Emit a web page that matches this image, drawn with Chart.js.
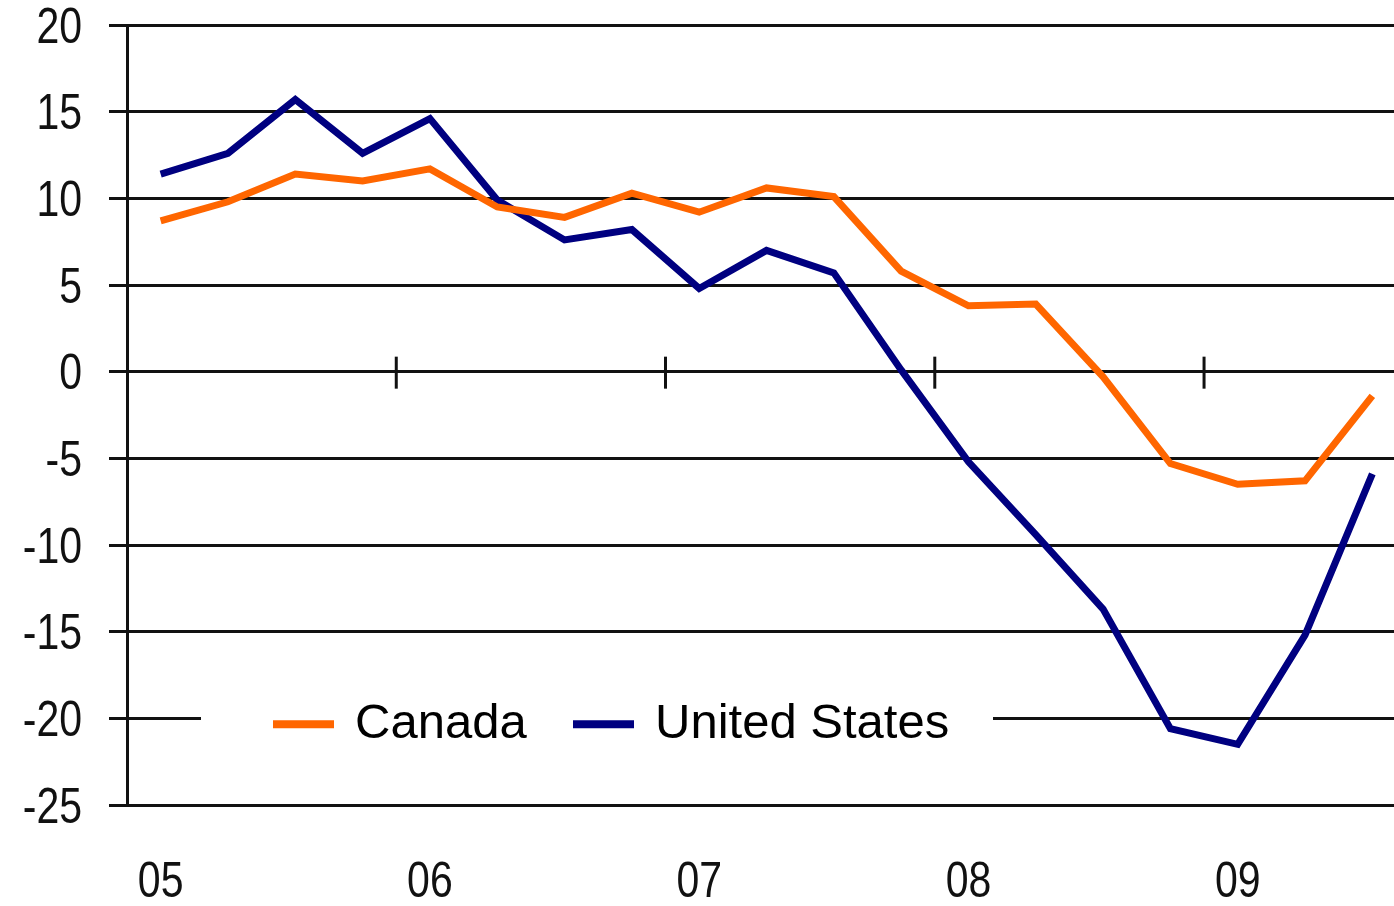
<!DOCTYPE html>
<html>
<head>
<meta charset="utf-8">
<title>Canada vs United States</title>
<script src="https://cdn.jsdelivr.net/npm/chart.js@4"></script>
<style>
    html, body { margin: 0; padding: 0; background: #fff; overflow: hidden; width: 1394px; height: 906px; }
    /* a área do gráfico continua um pouco além da borda direita, como no original */
    #wrap { position: relative; width: 1406px; height: 906px; }
    canvas { display: block; }
</style>
</head>
<body>
<div id="wrap"><canvas id="grafico"></canvas></div>
<script>
// trimestres 2005 T1 -> 2009 T3
const quarters = [
    '05Q1', '05Q2', '05Q3', '05Q4',
    '06Q1', '06Q2', '06Q3', '06Q4',
    '07Q1', '07Q2', '07Q3', '07Q4',
    '08Q1', '08Q2', '08Q3', '08Q4',
    '09Q1', '09Q2', '09Q3'
];
const yearLabels = ['05', '06', '07', '08', '09'];
const canada = [8.7, 9.8, 11.4, 11.0, 11.7, 9.5, 8.9, 10.3, 9.2, 10.6, 10.1, 5.8, 3.8, 3.9, -0.3, -5.3, -6.5, -6.3, -1.4];
const unitedStates = [11.4, 12.6, 15.7, 12.6, 14.6, 9.9, 7.6, 8.2, 4.8, 7.0, 5.7, 0.1, -5.2, -9.4, -13.7, -20.6, -21.5, -15.2, -5.9];
const yTicks = [-25, -20, -15, -10, -5, 0, 5, 10, 15, 20];

const ORANGE = '#ff6600';
const NAVY = '#000080';
const SQUEEZE = 0.82; // rótulos estreitos como no original

// desenha um texto comprimido na horizontal
function narrowText(ctx, text, x, y, align) {
    ctx.save();
    ctx.translate(x, y);
    ctx.scale(SQUEEZE, 1);
    ctx.textAlign = align;
    ctx.fillText(text, 0, 0);
    ctx.restore();
}

// marcas de ano sobre a linha do zero, rótulos dos eixos e legenda
const extras = {
    id: 'extras',
    afterDraw(chart) {
        const ctx = chart.ctx;
        const x = chart.scales.x;
        const y = chart.scales.y;
        const y0 = y.getPixelForValue(0);

        ctx.save();
        ctx.strokeStyle = '#111';
        ctx.lineWidth = 3;
        for (let i = 4; i < quarters.length; i += 4) {
            const px = (x.getPixelForValue(i - 1) + x.getPixelForValue(i)) / 2;
            ctx.beginPath();
            ctx.moveTo(px, y0 - 15);
            ctx.lineTo(px, y0 + 17);
            ctx.stroke();
        }

        // rótulos
        ctx.fillStyle = '#111';
        ctx.font = "50px 'Liberation Sans', Arial, sans-serif";
        ctx.textBaseline = 'middle';
        yTicks.forEach(function(v) {
            narrowText(ctx, String(v), y.right - 45, y.getPixelForValue(v) + 4, 'right');
        });
        ctx.textBaseline = 'alphabetic';
        yearLabels.forEach(function(lbl, k) {
            narrowText(ctx, lbl, x.getPixelForValue(k * 4), chart.height - 9, 'center');
        });

        // legenda
        const ly = y.getPixelForValue(-20);
        const left = chart.chartArea.left + 74;
        ctx.fillStyle = '#fff';
        ctx.fillRect(left, ly - 30, 792, 60);

        const items = [
            { text: 'Canada', color: ORANGE, x: left + 72 },
            { text: 'United States', color: NAVY, x: left + 372 }
        ];
        ctx.font = "49px 'Liberation Sans', Arial, sans-serif";
        items.forEach(function(it) {
            ctx.strokeStyle = it.color;
            ctx.lineWidth = 8;
            ctx.beginPath();
            ctx.moveTo(it.x, ly + 6);
            ctx.lineTo(it.x + 61, ly + 6);
            ctx.stroke();
            ctx.fillStyle = '#000';
            ctx.fillText(it.text, it.x + 82, ly + 20);
        });
        ctx.restore();
    }
};

const ctx = document.getElementById('grafico').getContext('2d');
new Chart(ctx, {
    type: 'line',
    data: {
        labels: quarters,
        datasets: [
            {
                label: 'Canada',
                data: canada,
                borderColor: ORANGE,
                borderWidth: 7,
                pointRadius: 0,
                tension: 0
            },
            {
                label: 'United States',
                data: unitedStates,
                borderColor: NAVY,
                borderWidth: 7,
                pointRadius: 0,
                tension: 0
            }
        ]
    },
    options: {
        responsive: true,
        maintainAspectRatio: false,
        animation: false,
        layout: { padding: { left: 19, right: 0, top: 25, bottom: 0 } },
        plugins: {
            legend: { display: false },
            tooltip: { enabled: false }
        },
        scales: {
            x: {
                offset: true,
                grid: { display: false, drawTicks: false },
                border: { display: false },
                ticks: { display: false },
                afterFit: function(scale) { scale.height = 101; }
            },
            y: {
                min: yTicks[0],
                max: yTicks[yTicks.length - 1],
                afterBuildTicks: function(scale) {
                    scale.ticks = yTicks.map(function(v) { return { value: v }; });
                },
                grid: { color: '#111', lineWidth: 3, tickLength: 18 },
                border: { display: true, color: '#111', width: 3 },
                ticks: { display: false },
                afterFit: function(scale) { scale.width = 108; }
            }
        }
    },
    plugins: [extras]
});
</script>
</body>
</html>
